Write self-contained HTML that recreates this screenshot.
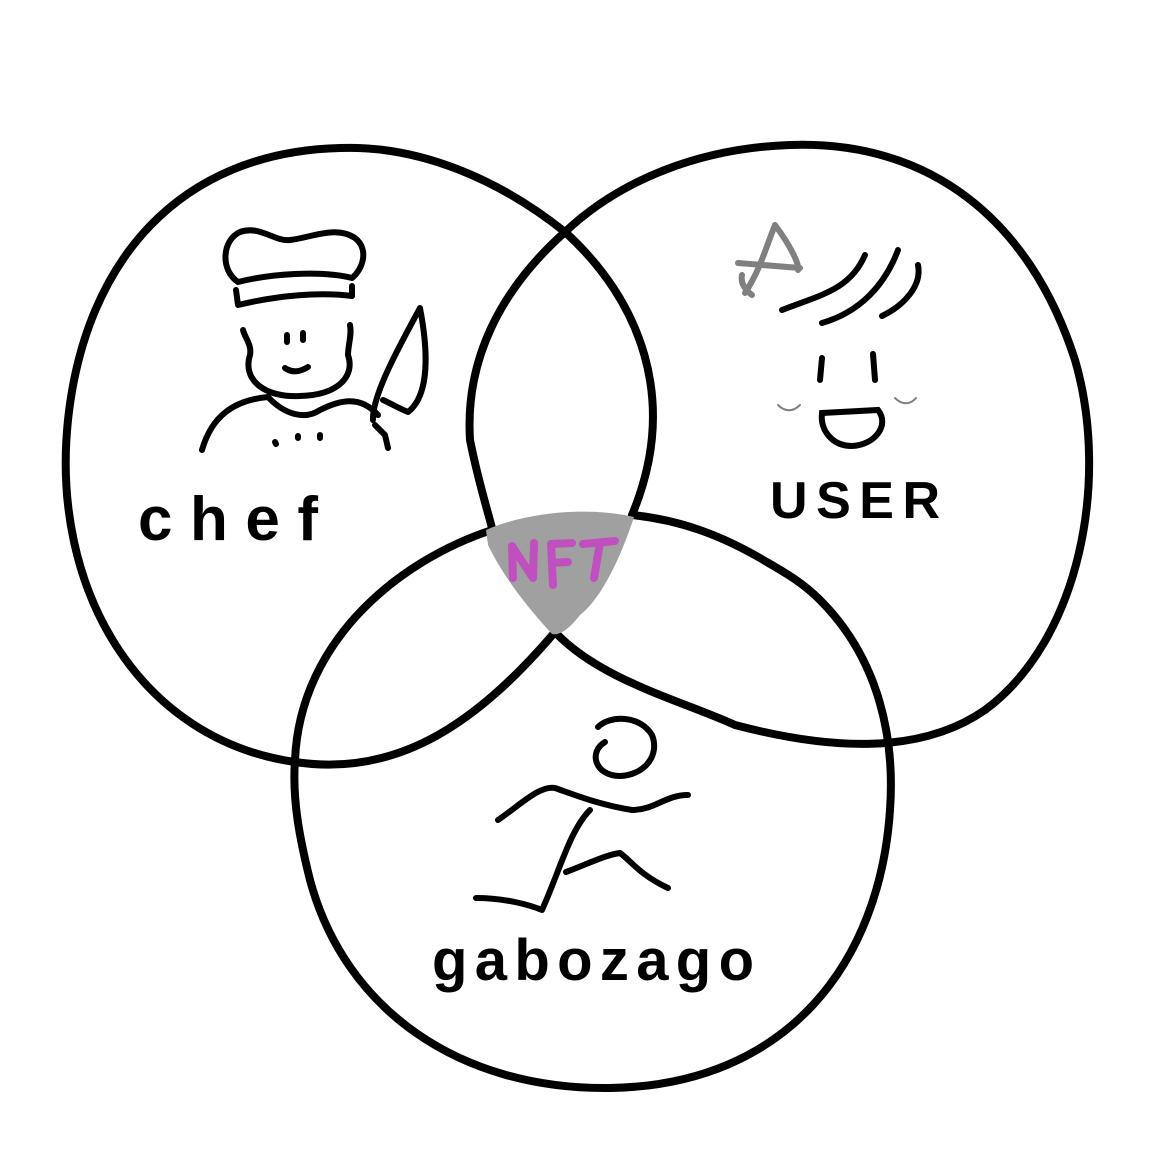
<!DOCTYPE html>
<html><head><style>html,body{margin:0;padding:0;background:#fff}</style></head>
<body>
<svg width="1154" height="1154" viewBox="0 0 1154 1154" xmlns="http://www.w3.org/2000/svg">
<rect width="1154" height="1154" fill="#fff"/>
<g fill="none" stroke="#000" stroke-width="8" stroke-linecap="round" stroke-linejoin="round">
<path d="M565,232 C500,180 420,145 340,148 C180,152 85,260 68,420 C50,590 140,740 295,762 C400,778 480,720 555,632"/>
<path d="M565,232 C640,300 680,400 632,515"/>
<path d="M565,232 C620,180 700,148 790,145 C930,140 1030,220 1075,360 C1110,480 1080,640 985,710 C920,755 830,750 735,725 C680,700 600,680 555,632"/>
<path d="M565,232 C500,290 465,360 470,440 C478,480 486,505 492,528"/>
<path d="M492,530 C400,560 300,640 295,760 C292,800 300,840 310,880 C345,1010 460,1090 610,1088 C790,1085 880,960 890,810 C895,740 880,660 820,600 C800,580 780,570 760,558 C720,535 680,520 632,515"/>
</g>
<path d="M486,530 C520,515 580,505 634,517 C620,560 600,600 580,615 C570,628 560,636 552,634 C530,610 505,580 488,545 Z" fill="#a0a0a0"/>
<g fill="none" stroke="#c04fc0" stroke-width="8" stroke-linecap="round" stroke-linejoin="round">
<path d="M513,578 L512,546 L533,578 L534,543"/>
<path d="M553,585 L551,544 L572,543 M552,563 L568,562"/>
<path d="M583,544 L615,541 M600,543 L594,578"/>
</g>
<g fill="none" stroke="#000" stroke-width="6" stroke-linecap="round" stroke-linejoin="round">
<path d="M238,282 C220,270 222,240 240,232 C260,225 275,242 290,240 C310,238 335,225 355,238 C370,250 362,270 352,278 C320,270 270,274 238,282Z"/>
<path d="M236,290 L238,305 C280,295 320,292 352,296 L352,286"/>
<path d="M243,330 C245,338 252,345 250,355 C242,380 265,398 300,396 C340,395 355,375 348,355 C348,345 352,335 350,325"/>
<path d="M287,335 L287,342 M303,333 L303,340 M285,368 C292,373 300,372 308,367"/>
<path d="M202,450 C212,415 235,400 268,397 C285,415 305,420 320,410 C340,400 360,395 378,415"/>
<path d="M373,420 C372,395 400,345 420,308 C428,350 430,395 408,412 C398,408 390,403 383,400"/>
<path d="M375,425 L385,435 L388,448"/>
<path d="M275,442 L276,444 M298,436 L298,438 M320,435 L320,438"/>
</g>
<text x="138" y="540" font-family="Liberation Sans, sans-serif" font-size="62" font-weight="bold" fill="#000" textLength="180" lengthAdjust="spacing">chef</text>
<g fill="none" stroke-linecap="round" stroke-width="6">
<path d="M738,263 L800,268 M775,225 C765,250 760,270 745,293 M775,225 C790,245 800,265 798,270 M742,275 C740,285 748,292 752,295" stroke="#808080"/>
<path d="M782,310 C820,295 850,290 865,255 M822,323 C860,312 885,285 898,250 M882,316 C905,305 922,285 918,265" stroke="#000"/>
<path d="M822,358 L820,380 M873,354 L875,380" stroke="#000"/>
<path d="M822,413 L878,410 C890,425 875,445 852,446 C832,446 820,430 822,413Z" stroke="#000"/>
<path d="M778,405 C785,412 793,412 800,405 M895,398 C902,405 910,405 916,398" stroke="#808080" stroke-width="2"/>
</g>
<text x="770" y="518" font-family="Liberation Sans, sans-serif" font-size="52" font-weight="bold" fill="#000" textLength="170" lengthAdjust="spacing">USER</text>
<g fill="none" stroke="#000" stroke-width="6" stroke-linecap="round" stroke-linejoin="round">
<path d="M598,727 C610,715 640,715 652,735 C660,755 645,775 620,776 C595,776 588,752 605,742"/>
<path d="M498,820 C520,805 540,785 555,788 C575,795 600,805 632,810 C655,810 665,795 688,795"/>
<path d="M590,810 C570,830 560,870 542,910 C530,905 505,898 476,898"/>
<path d="M566,872 C585,865 605,855 620,853 C630,860 640,875 668,888"/>
</g>
<text x="432" y="980" font-family="Liberation Sans, sans-serif" font-size="58" font-weight="bold" fill="#000" textLength="322" lengthAdjust="spacing">gabozago</text>
</svg>
</body></html>
